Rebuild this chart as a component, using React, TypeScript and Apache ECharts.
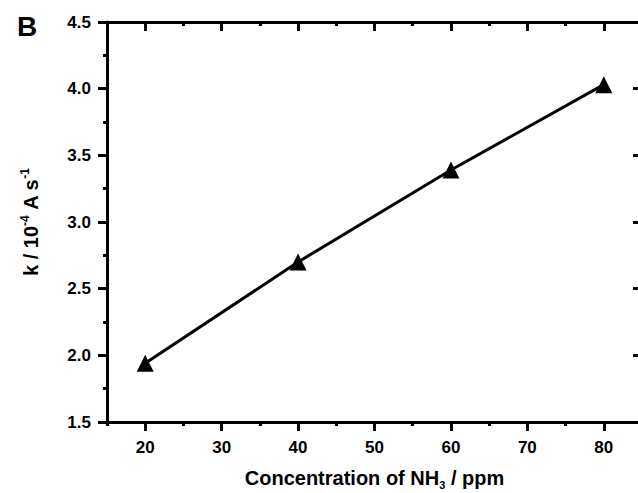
import React, { useEffect, useRef } from "react";
import * as echarts from "echarts";

const concentrations = [20, 40, 60, 80];
const kValues = [1.94, 2.70, 3.39, 4.03];
const xMajorTicks = [20, 30, 40, 50, 60, 70, 80];
const xMinorTicks = [15, 25, 35, 45, 55, 65, 75, 85];
const panelLabel = "B";
const xTitle = "Concentration of NH{sub|3} / ppm";
const yTitle = "k / 10{sup|-4} A s{sup|-1}";

const FONT = "'Liberation Sans', Arial, sans-serif";

export default function App() {
  const ref = useRef<HTMLDivElement>(null);
  useEffect(() => {
    const chart = echarts.init(ref.current!, null, { renderer: "svg" });
    const axisLine = { show: true, onZero: false, lineStyle: { color: "#000", width: 3 } };
    const noLine = { show: false, onZero: false };
    const tickStyle = { color: "#000", width: 3 };
    const labelStyle = { color: "#000", fontFamily: FONT, fontWeight: "bold" as const, fontSize: 17 };
    const data = concentrations.map((c, i) => [c, kValues[i]]);
    const xBase = { type: "value", min: 15, max: 85, splitLine: { show: false } };
    const yBase = {
      type: "value",
      min: 1.5,
      max: 4.5,
      interval: 0.5,
      splitLine: { show: false },
      minorTick: { show: true, splitNumber: 2, length: 4, lineStyle: tickStyle },
    };
    chart.setOption({
      animation: false,
      backgroundColor: "#fff",
      grid: { left: 107, right: 18, top: 22, bottom: 71, containLabel: false, outerBoundsMode: "none" },
      graphic: [
        {
          type: "text",
          left: 17,
          top: 12,
          style: { text: panelLabel, font: `bold 28px ${FONT}`, fill: "#000" },
        },
      ],
      xAxis: [
        {
          ...xBase,
          position: "bottom",
          axisLine,
          axisTick: { show: true, inside: false, length: 9, lineStyle: tickStyle, customValues: xMajorTicks },
          axisLabel: { ...labelStyle, margin: 17, customValues: xMajorTicks },
          name: xTitle,
          nameLocation: "middle",
          nameGap: 44,
          nameTextStyle: {
            ...labelStyle,
            fontSize: 20,
            lineHeight: 24,
            rich: {
              sub: { ...labelStyle, fontSize: 11, lineHeight: 12, verticalAlign: "bottom" },
            },
          },
        },
        {
          ...xBase,
          position: "bottom",
          axisLine: noLine,
          axisTick: { show: true, inside: false, length: 4, lineStyle: tickStyle, customValues: xMinorTicks },
          axisLabel: { show: false },
        },
        {
          ...xBase,
          position: "top",
          axisLine,
          axisTick: { show: true, inside: true, length: 9, lineStyle: tickStyle, customValues: xMajorTicks },
          axisLabel: { show: false },
        },
        {
          ...xBase,
          position: "top",
          axisLine: noLine,
          axisTick: { show: true, inside: true, length: 4, lineStyle: tickStyle, customValues: xMinorTicks },
          axisLabel: { show: false },
        },
      ],
      yAxis: [
        {
          ...yBase,
          position: "left",
          axisLine,
          axisTick: { show: true, inside: false, length: 9, lineStyle: tickStyle },
          axisLabel: { ...labelStyle, margin: 16, formatter: (v: number) => v.toFixed(1) },
          name: yTitle,
          nameLocation: "middle",
          nameRotate: 90,
          nameGap: 64,
          nameTextStyle: {
            ...labelStyle,
            fontSize: 20,
            lineHeight: 24,
            rich: {
              sup: { ...labelStyle, fontSize: 12, lineHeight: 12, verticalAlign: "top" },
            },
          },
        },
        {
          ...yBase,
          position: "right",
          axisLine,
          axisTick: { show: true, inside: true, length: 9, lineStyle: tickStyle },
          minorTick: { show: true, splitNumber: 2, length: 4, lineStyle: tickStyle },
          axisLabel: { show: false },
        },
      ],
      series: [
        {
          type: "line",
          data,
          xAxisIndex: 0,
          yAxisIndex: 0,
          symbol: "triangle",
          symbolSize: 17,
          itemStyle: { color: "#000" },
          lineStyle: { color: "#000", width: 3 },
          z: 5,
        },
      ],
    });
    return () => chart.dispose();
  }, []);
  return (
    <div style={{ position: "fixed", left: 0, top: 0, width: 638, height: 493, overflow: "hidden", background: "#fff" }}>
      <div ref={ref} style={{ width: 660, height: 493 }} />
    </div>
  );
}
